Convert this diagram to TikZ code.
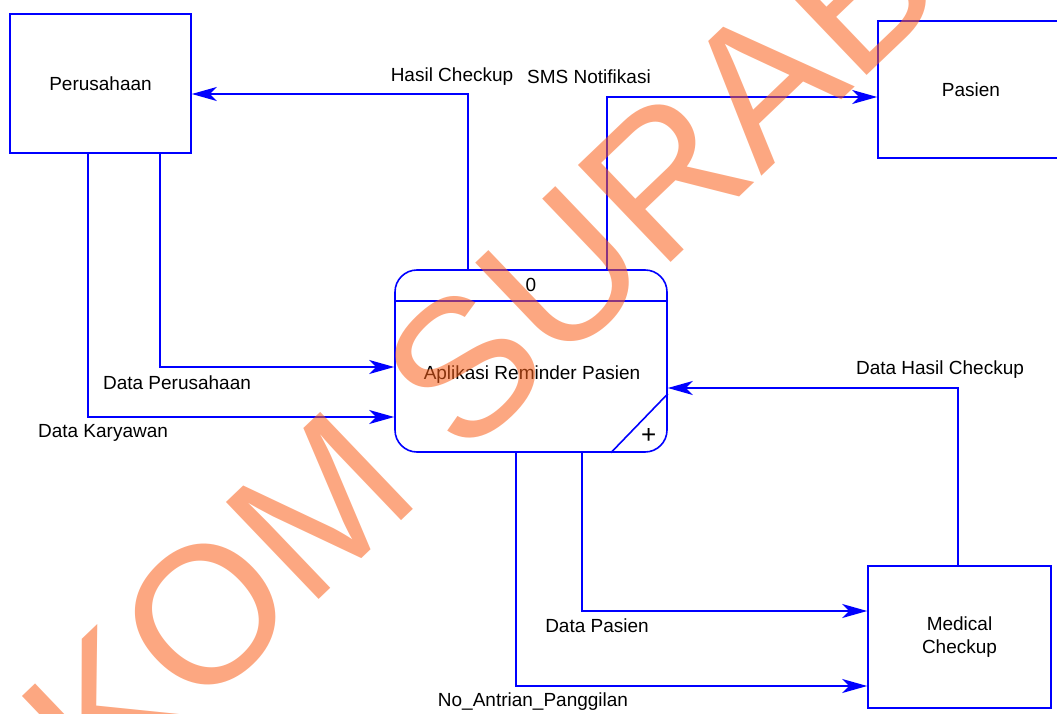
\documentclass[tikz,border=0pt]{standalone}
\usepackage{fontspec}
\setmainfont{Liberation Sans}
\usepackage{xcolor}
\usepackage{tikz}
\usetikzlibrary{arrows.meta, positioning, calc}
\definecolor{dfdblue}{RGB}{0,0,255}
\definecolor{wmark}{RGB}{250,95,25}
\tikzset{
    extent/.style={rectangle, draw=dfdblue, line width=1.6pt, fill=white, font=\fontsize{19}{23}\selectfont, align=center},
    process/.style={rectangle, draw=dfdblue, line width=1.6pt, rounded corners=22pt, minimum width=272pt, minimum height=182pt},
    flow/.style={draw=dfdblue, line width=1.6pt, -{Stealth[length=25pt, width=14pt, inset=7pt]}},
    flowlabel/.style={font=\fontsize{19}{23}\selectfont, inner sep=1pt},
}

\begin{document}
\begin{tikzpicture}[x=1pt, y=-1pt]
\useasboundingbox (0,0) rectangle (1057,714);

% === EXTERNAL ENTITIES ===
\node[extent, minimum width=181pt, minimum height=139pt] (perus) at (100.5, 83.5) {Perusahaan};
\node[extent, minimum width=186pt, minimum height=137pt] (pasien) at (971, 89.5) {Pasien};
\node[extent, minimum width=183pt, minimum height=142pt] (medical) at (959.5, 637) {Medical\\Checkup};

% === PROCESS ===
\node[process] (proc) at (531, 361) {};
\draw[dfdblue, line width=1.6pt] ([yshift=-32pt]proc.north west) -- ([yshift=-32pt]proc.north east);
\draw[dfdblue, line width=1.6pt] ([xshift=-57pt]proc.south east) -- ([yshift=59pt]proc.south east);
\node[flowlabel] (procnum) at ([yshift=-16pt]proc.north) {0};
\node[flowlabel] (procname) at (532, 375) {Aplikasi Reminder Pasien};
\node[flowlabel, font=\fontsize{26}{26}\selectfont] (procplus) at ([xshift=-19pt, yshift=17pt]proc.south east) {+};

% === DATA FLOWS ===
% process -> Perusahaan
\draw[flow] ([xshift=-63pt]proc.north) |- ([yshift=-10.5pt]perus.east);
\node[flowlabel] (lhasil) at (452, 77) {Hasil Checkup};

% process -> Pasien
\draw[flow] ([xshift=76pt]proc.north) |- ([yshift=-7.5pt]pasien.west);
\node[flowlabel] (lsms) at (589, 77) {SMS Notifikasi};

% Perusahaan -> process
\draw[flow] ([xshift=59.5pt]perus.south) |- ([yshift=-6pt]proc.west);
\node[flowlabel] (lperus) at (177, 383) {Data Perusahaan};
\draw[flow] ([xshift=-12.5pt]perus.south) |- ([yshift=-56pt]proc.west);
\node[flowlabel] (lkary) at (103, 433) {Data Karyawan};

% Medical Checkup -> process
\draw[flow] ([xshift=-1.5pt]medical.north) |- ([yshift=-27pt]proc.east);
\node[flowlabel] (ldhc) at (940, 370) {Data Hasil Checkup};

% process -> Medical Checkup
\draw[flow] ([xshift=51pt]proc.south) |- ([yshift=26pt]medical.west);
\node[flowlabel] (lpasien) at (597, 626) {Data Pasien};
\draw[flow] ([xshift=-15pt]proc.south) |- ([yshift=-49pt]medical.west);
\node[flowlabel] (lantri) at (533, 702) {No\_Antrian\_Panggilan};

% === WATERMARK ===
\node[anchor=base west, rotate=43.7, inner sep=0pt, text=wmark, opacity=0.55,
      font=\fontsize{195}{195}\selectfont] (wm) at (103.5, 805) {KOM SURAB};

\end{tikzpicture}
\end{document}
